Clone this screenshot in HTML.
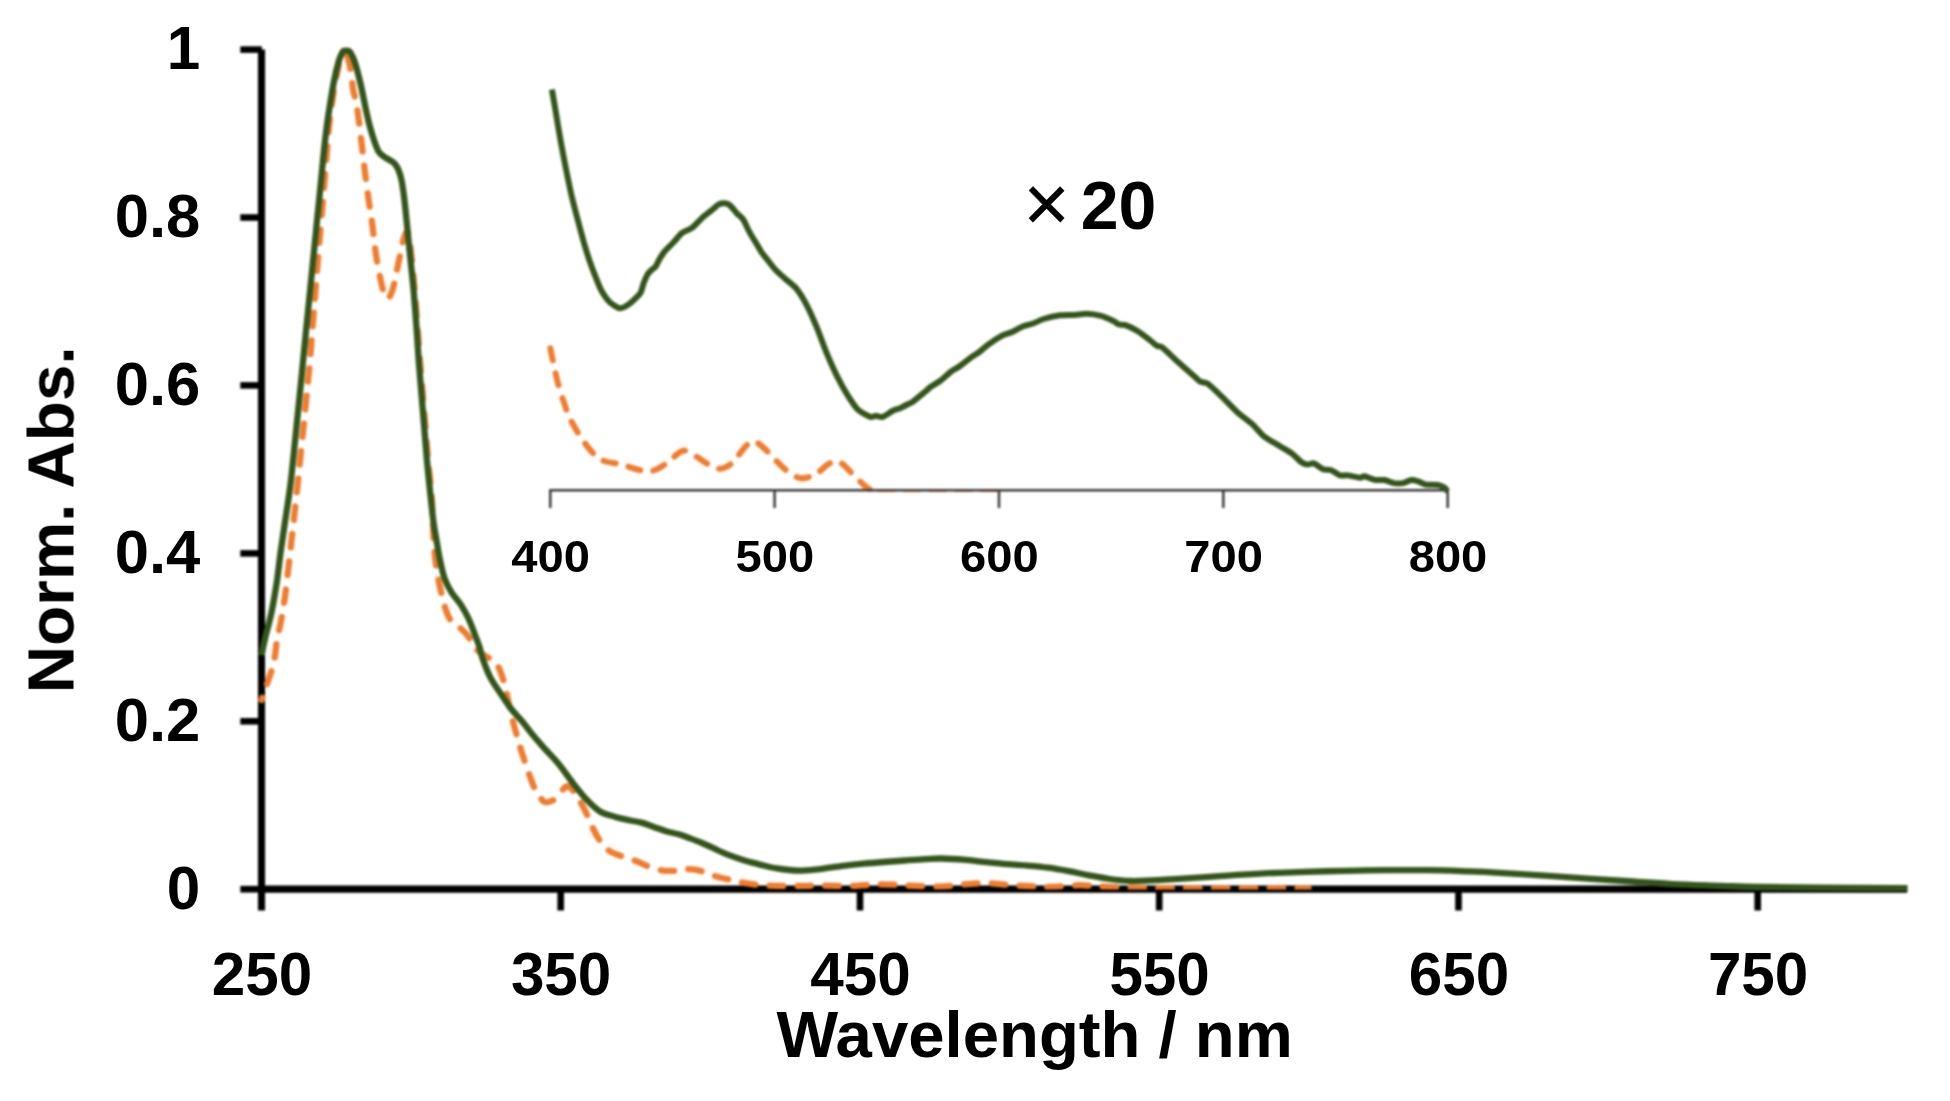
<!DOCTYPE html>
<html lang="en">
<head>
<meta charset="utf-8">
<title>Normalized absorption spectrum</title>
<style>
html,body{margin:0;padding:0;background:#fff;}
body{width:1950px;height:1101px;overflow:hidden;font-family:"Liberation Sans",Arial,sans-serif;}
svg{display:block;}
.ln{filter:blur(0.8px);}
.tx{filter:blur(0.5px);}
</style>
</head>
<body>
<svg width="1950" height="1101" viewBox="0 0 1950 1101">
<rect width="1950" height="1101" fill="#fff"/>
<g class="ln">
<g stroke="#000000" fill="none" stroke-linecap="butt">
<line x1="261.5" y1="49.4" x2="261.5" y2="910.5" stroke-width="7.1"/>
<line x1="261.5" y1="889.2" x2="1907.3" y2="889.2" stroke-width="7.3"/>
<line x1="240.3" y1="889.2" x2="261.5" y2="889.2" stroke-width="6.7"/>
<line x1="240.3" y1="721.3" x2="261.8" y2="721.3" stroke-width="6.6"/>
<line x1="240.3" y1="553.4" x2="261.8" y2="553.4" stroke-width="6.6"/>
<line x1="240.3" y1="385.4" x2="261.8" y2="385.4" stroke-width="6.6"/>
<line x1="240.3" y1="217.5" x2="261.8" y2="217.5" stroke-width="6.6"/>
<line x1="240.3" y1="49.6" x2="261.8" y2="49.6" stroke-width="6.6"/>
<line x1="560.7" y1="889.2" x2="560.7" y2="910.5" stroke-width="6.6"/>
<line x1="860.0" y1="889.2" x2="860.0" y2="910.5" stroke-width="6.6"/>
<line x1="1159.2" y1="889.2" x2="1159.2" y2="910.5" stroke-width="6.6"/>
<line x1="1458.5" y1="889.2" x2="1458.5" y2="910.5" stroke-width="6.6"/>
<line x1="1757.7" y1="889.2" x2="1757.7" y2="910.5" stroke-width="6.6"/>
</g>
<path d="M550.3,348.2C550.8,350.6 552.1,357.1 553.3,362.6C554.5,368.1 555.7,374.5 557.4,381.0C559.1,387.5 561.5,395.4 563.6,401.5C565.7,407.6 567.1,412.4 569.7,417.9C572.3,423.4 575.8,429.3 579.0,434.4C582.2,439.5 585.5,444.4 589.2,448.7C593.0,453.0 596.0,457.4 601.5,460.0C607.0,462.6 616.7,463.2 622.1,464.6C627.5,466.0 629.9,467.4 634.0,468.5C638.1,469.6 643.2,471.1 646.7,471.4C650.2,471.6 652.2,471.0 655.0,470.0C657.8,469.0 660.5,467.4 663.3,465.5C666.1,463.6 669.0,460.9 672.0,458.5C675.0,456.1 678.8,452.5 681.5,451.3C684.2,450.1 685.4,450.6 688.0,451.5C690.6,452.4 693.8,455.0 697.0,457.0C700.2,459.0 703.7,461.6 707.0,463.5C710.3,465.4 714.0,467.9 717.0,468.6C720.0,469.3 722.5,468.4 725.0,467.5C727.5,466.6 729.6,465.1 731.8,463.2C734.0,461.3 735.9,458.6 738.0,456.0C740.1,453.4 742.3,450.1 744.3,447.8C746.3,445.6 748.4,443.6 750.0,442.5C751.6,441.4 752.8,440.8 754.2,441.0C755.6,441.2 756.5,442.0 758.5,443.5C760.5,445.0 763.4,447.5 766.0,450.0C768.6,452.5 771.3,455.8 774.0,458.5C776.7,461.2 779.0,463.8 782.0,466.5C785.0,469.2 788.9,472.6 792.0,474.5C795.1,476.4 797.8,477.7 800.5,478.2C803.2,478.7 805.3,478.0 808.0,477.3C810.7,476.6 813.3,476.1 816.5,474.0C819.7,471.9 823.9,467.2 827.0,465.0C830.1,462.8 833.1,461.3 835.4,461.0C837.7,460.7 839.2,462.0 841.0,463.0C842.8,464.0 844.2,465.4 846.0,467.2C847.8,468.9 849.9,471.4 852.0,473.5C854.1,475.6 856.3,477.9 858.5,480.0C860.7,482.1 862.9,484.4 865.0,486.0C867.1,487.6 868.1,488.7 871.3,489.8C874.5,490.9 862.8,492.1 884.1,492.6C905.4,493.1 979.9,492.6 999.0,492.6" fill="none" stroke="#ee7d30" stroke-width="6.0" stroke-linejoin="round" stroke-dasharray="12.4 13.2" stroke-linecap="round" clip-path="url(#ci)"/>
<g stroke="#3a3a3a" fill="none" stroke-width="2.5">
<line x1="549.2" y1="490.2" x2="1448.8" y2="490.2"/>
<line x1="550.3" y1="490.2" x2="550.3" y2="508"/>
<line x1="774.6" y1="490.2" x2="774.6" y2="508"/>
<line x1="999.0" y1="490.2" x2="999.0" y2="508"/>
<line x1="1223.3" y1="490.2" x2="1223.3" y2="508"/>
<line x1="1447.7" y1="490.2" x2="1447.7" y2="508"/>
</g>
<path d="M551.9,89.5C552.3,92.0 554.6,104.9 555.6,111.0C556.6,117.1 559.6,135.1 560.8,141.8C562.0,148.5 564.7,162.5 565.9,168.5C567.1,174.5 569.7,187.4 571.0,193.1C572.3,198.8 575.6,211.7 577.2,217.7C578.8,223.7 582.9,239.3 584.4,244.4C585.9,249.5 588.5,257.8 589.8,261.5C591.1,265.2 594.0,273.0 595.4,276.4C596.8,279.8 599.8,287.8 601.5,290.8C603.2,293.8 607.5,300.1 609.7,302.1C611.9,304.1 617.6,308.1 620.0,308.2C622.4,308.3 627.9,304.9 630.3,303.1C632.7,301.3 639.0,295.1 640.5,292.8C642.0,290.5 642.7,285.6 643.5,283.5C644.3,281.4 646.5,276.2 647.4,274.6C648.3,273.0 650.5,270.9 651.5,270.0C652.5,269.1 654.6,267.9 655.6,266.6C656.6,265.3 658.6,260.6 659.7,258.7C660.8,256.8 663.8,252.4 665.4,250.5C667.0,248.6 671.7,244.3 673.6,242.3C675.5,240.3 679.7,234.8 681.8,233.1C683.9,231.4 689.6,229.7 692.0,227.9C694.4,226.1 699.9,219.8 702.3,217.7C704.7,215.6 710.7,211.1 712.6,209.5C714.5,207.9 717.3,205.1 718.7,204.4C720.1,203.7 723.6,203.2 724.9,203.3C726.2,203.4 728.6,204.2 730.0,205.4C731.4,206.6 735.6,211.9 737.2,213.6C738.8,215.3 741.9,217.5 743.3,219.7C744.7,221.9 748.1,229.5 749.5,232.1C750.9,234.7 754.2,239.9 755.6,242.3C757.0,244.7 760.4,250.5 761.8,252.6C763.2,254.7 766.4,258.4 768.0,260.5C769.6,262.6 773.8,268.1 775.9,270.3C778.0,272.5 783.6,277.4 786.0,279.5C788.4,281.6 794.0,285.7 796.4,288.7C798.8,291.7 804.3,300.6 806.7,305.1C809.1,309.7 814.5,321.9 816.9,327.7C819.3,333.5 824.8,348.7 827.2,354.4C829.6,360.1 835.0,372.1 837.4,376.9C839.8,381.7 845.3,391.6 847.7,395.4C850.1,399.2 855.3,407.2 857.9,409.7C860.5,412.2 868.2,416.2 870.3,416.9C872.4,417.6 874.6,415.8 876.0,415.8C877.4,415.8 880.6,417.5 882.6,416.9C884.6,416.3 890.8,411.8 892.8,410.8C894.8,409.8 898.1,409.0 900.0,408.2C901.9,407.4 907.8,404.3 909.2,403.6C910.6,402.9 910.4,403.5 912.3,402.1C914.2,400.7 923.4,393.1 925.6,391.3C927.8,389.5 929.1,387.9 930.8,386.7C932.5,385.5 937.6,382.8 940.0,381.0C942.4,379.2 949.0,373.1 951.3,371.3C953.6,369.6 957.6,367.7 960.0,366.0C962.4,364.3 969.5,358.6 971.8,356.9C974.1,355.2 978.1,352.9 980.0,351.5C981.9,350.1 985.6,346.5 988.2,344.6C990.8,342.7 999.8,336.9 1002.6,335.4C1005.4,333.9 1009.6,333.1 1012.0,332.0C1014.4,330.9 1020.6,327.2 1023.1,326.2C1025.5,325.2 1030.6,324.3 1033.0,323.5C1035.4,322.7 1040.4,320.0 1043.6,319.0C1046.8,318.0 1056.4,315.8 1060.0,315.3C1063.6,314.8 1071.3,315.1 1074.4,314.9C1077.5,314.7 1083.6,313.7 1086.7,313.8C1089.8,313.9 1097.9,315.1 1101.0,315.9C1104.1,316.7 1111.2,320.0 1113.3,321.0C1115.4,322.0 1117.6,324.0 1119.0,324.5C1120.4,325.0 1123.4,324.3 1125.6,325.1C1127.8,325.9 1135.0,329.5 1137.9,331.3C1140.8,333.1 1148.1,338.8 1150.3,340.5C1152.5,342.2 1155.6,345.0 1157.0,345.8C1158.4,346.6 1160.3,345.9 1162.6,347.7C1164.9,349.5 1173.3,357.8 1176.9,361.0C1180.5,364.2 1190.6,373.0 1193.3,375.4C1196.0,377.8 1198.3,380.5 1200.0,381.5C1201.7,382.5 1205.1,381.8 1207.7,383.6C1210.3,385.4 1218.5,393.4 1222.1,396.9C1225.7,400.4 1234.9,410.1 1238.5,413.3C1242.1,416.5 1249.8,421.8 1252.8,424.6C1255.8,427.4 1261.4,434.4 1264.6,436.9C1267.8,439.4 1276.8,444.2 1280.0,446.2C1283.2,448.2 1289.8,451.9 1292.3,453.8C1294.8,455.7 1299.7,461.0 1301.5,462.3C1303.3,463.6 1306.3,464.5 1307.7,464.6C1309.1,464.7 1312.0,462.9 1313.8,463.4C1315.6,463.9 1321.1,468.4 1323.1,469.2C1325.1,470.0 1328.8,469.3 1330.8,470.0C1332.8,470.7 1338.0,474.8 1340.0,475.4C1342.0,476.0 1345.4,475.1 1347.7,475.4C1350.0,475.7 1358.0,477.6 1360.0,477.7C1362.0,477.8 1362.8,475.9 1364.6,476.2C1366.4,476.5 1373.1,479.6 1375.4,480.0C1377.7,480.4 1382.5,479.6 1384.6,480.0C1386.7,480.4 1391.6,482.7 1393.8,483.1C1396.0,483.5 1401.0,483.5 1403.1,483.1C1405.2,482.7 1409.7,480.2 1411.5,480.0C1413.3,479.8 1416.8,481.0 1418.5,481.5C1420.2,482.0 1423.9,484.2 1426.2,484.6C1428.5,485.0 1436.4,484.7 1438.5,485.1C1440.6,485.5 1443.5,487.0 1444.6,487.7C1445.7,488.4 1447.3,491.1 1447.7,491.5" fill="none" stroke="#33551b" stroke-width="6.0" stroke-linejoin="round"/>
<path d="M261.5,700.0C262.2,698.0 264.3,691.8 265.6,688.0C266.9,684.2 268.2,680.7 269.4,677.0C270.6,673.3 272.1,669.7 273.0,666.0C273.9,662.3 274.4,659.3 275.1,655.0C275.8,650.7 276.0,645.8 277.0,640.0C278.1,634.2 279.9,627.2 281.2,620.0C282.5,612.8 283.7,605.5 284.9,597.0C286.1,588.5 287.2,578.0 288.3,569.0C289.3,560.0 290.3,551.2 291.2,543.0C292.2,534.8 292.7,530.0 293.8,520.0C294.9,510.0 296.6,494.7 297.8,483.0C299.0,471.3 300.1,460.3 301.1,450.0C302.2,439.7 303.1,431.0 304.1,421.0C305.0,411.0 306.2,399.3 307.1,390.0C308.0,380.7 308.7,375.0 309.6,365.0C310.5,355.0 311.4,342.2 312.3,330.0C313.3,317.8 314.2,306.0 315.3,292.0C316.4,278.0 318.1,257.7 319.0,246.0C320.0,234.3 320.4,229.3 321.1,222.0C321.7,214.7 322.1,210.5 322.8,202.0C323.6,193.5 324.5,181.3 325.4,171.0C326.2,160.7 327.1,148.7 327.8,140.0C328.5,131.3 329.0,125.7 329.8,119.0C330.6,112.3 331.6,106.0 332.5,100.0C333.3,94.0 334.1,88.0 335.0,83.0C335.9,78.0 337.0,73.6 337.8,70.0C338.6,66.4 338.5,63.9 339.6,61.5C340.7,59.1 343.4,56.8 344.6,55.6C345.8,54.5 346.0,53.9 346.6,54.6C347.2,55.3 347.8,57.0 348.5,60.0C349.2,63.0 350.2,67.2 351.0,72.3C351.8,77.3 352.4,85.5 353.2,90.3C354.0,95.1 355.1,96.4 356.0,101.0C356.9,105.6 357.6,111.4 358.5,118.0C359.4,124.6 360.2,131.9 361.3,140.8C362.4,149.7 363.6,161.3 364.9,171.6C366.2,181.9 367.8,193.8 369.0,202.4C370.2,211.0 371.0,214.8 372.1,222.9C373.2,231.0 374.1,241.8 375.4,250.8C376.7,259.8 378.6,270.0 380.0,276.9C381.4,283.8 382.5,288.7 383.8,292.3C385.1,295.9 386.3,298.8 387.7,298.5C389.1,298.2 390.9,294.9 392.3,290.8C393.7,286.7 394.9,279.7 396.2,273.8C397.5,267.9 398.7,261.3 400.0,255.4C401.3,249.5 402.5,242.4 403.8,238.5C405.1,234.6 406.5,230.6 407.6,232.0C408.7,233.4 409.2,236.7 410.4,247.0C411.6,257.3 413.6,279.1 414.9,293.7C416.2,308.3 417.1,323.2 418.0,334.8C418.9,346.4 419.1,349.8 420.1,363.0C421.2,376.2 423.0,397.6 424.3,413.8C425.6,430.0 426.8,445.9 428.0,460.0C429.2,474.1 430.8,484.6 431.8,498.5C432.8,512.4 433.0,531.1 433.8,543.1C434.6,555.1 435.6,562.3 436.9,570.8C438.2,579.2 439.9,587.1 441.5,593.8C443.1,600.5 444.5,606.2 446.2,610.8C447.9,615.4 449.1,618.5 451.5,621.5C453.9,624.5 458.0,625.9 460.8,628.5C463.6,631.1 465.9,633.4 468.5,636.9C471.1,640.4 473.1,645.9 476.2,649.2C479.3,652.5 483.8,654.9 486.9,656.9C490.0,658.9 492.4,659.1 494.6,661.5C496.9,663.9 498.6,667.1 500.4,671.5C502.2,675.9 503.8,681.4 505.4,687.7C507.0,694.0 508.5,702.5 510.0,709.2C511.5,715.9 513.2,722.6 514.6,727.7C516.0,732.8 517.1,736.0 518.3,740.0C519.4,744.0 519.9,746.5 521.5,751.5C523.1,756.5 525.5,763.8 527.7,770.0C529.9,776.2 532.3,783.6 534.6,788.5C536.9,793.4 539.6,796.9 541.5,799.2C543.4,801.5 544.0,802.3 546.2,802.3C548.4,802.3 551.5,801.6 554.6,799.2C557.7,796.8 562.3,789.8 564.6,787.7C566.9,785.6 567.0,785.9 568.5,786.5C570.0,787.1 571.6,788.6 573.8,791.5C576.0,794.4 579.2,799.7 581.5,803.8C583.8,807.9 585.7,811.8 587.7,816.2C589.8,820.6 591.8,825.9 593.8,830.0C595.8,834.1 597.4,837.3 600.0,840.8C602.6,844.3 605.6,848.2 609.2,850.8C612.8,853.4 617.1,854.5 621.5,856.2C625.9,857.9 631.0,859.1 635.4,860.8C639.8,862.5 643.4,864.6 647.7,866.2C652.1,867.8 657.1,869.5 661.5,870.3C665.9,871.1 669.2,871.0 673.8,870.8C678.4,870.6 684.3,869.1 689.2,869.2C694.1,869.3 698.7,870.3 703.1,871.5C707.5,872.7 710.8,874.8 715.4,876.2C720.0,877.6 725.7,878.9 730.8,880.0C735.9,881.1 740.6,882.2 746.2,883.1C751.8,884.0 756.4,884.9 764.6,885.4C772.8,885.9 786.2,886.0 795.4,886.0C804.6,886.0 810.9,885.6 820.0,885.6C829.1,885.6 840.0,886.2 850.0,886.0C860.0,885.8 870.0,884.4 880.0,884.3C890.0,884.2 900.0,885.2 910.0,885.6C920.0,886.0 930.7,886.8 940.0,886.6C949.3,886.4 958.2,884.8 966.0,884.2C973.8,883.6 979.9,883.1 986.7,883.2C993.5,883.3 999.8,884.3 1007.0,884.8C1014.2,885.3 1022.8,885.8 1030.0,886.2C1037.2,886.6 1041.8,887.2 1050.0,887.0C1058.2,886.8 1070.7,885.3 1079.0,885.2C1087.3,885.1 1091.5,886.0 1100.0,886.4C1108.5,886.8 1120.0,887.3 1130.0,887.6C1140.0,887.9 1143.3,888.1 1160.0,888.2C1176.7,888.3 1205.2,888.3 1230.0,888.3C1254.8,888.3 1295.4,888.3 1308.5,888.3" fill="none" stroke="#ee7d30" stroke-width="6.3" stroke-linejoin="round" stroke-dasharray="13.5 14.3" stroke-dashoffset="11" stroke-linecap="round" clip-path="url(#cm)"/>
<path d="M261.5,655.4C262.1,652.3 263.7,644.1 265.4,636.9C267.1,629.7 269.6,621.5 271.5,612.3C273.4,603.1 275.3,591.8 276.9,581.5C278.4,571.2 279.4,560.7 280.8,550.8C282.2,540.9 283.4,533.3 285.0,522.0C286.6,510.7 288.6,499.9 290.6,483.1C292.6,466.4 295.0,441.2 297.0,421.5C299.0,401.8 300.6,386.5 302.7,365.0C304.8,343.5 307.9,312.1 309.9,292.3C311.9,272.5 313.4,257.8 314.5,246.2C315.6,234.6 316.1,230.2 316.8,222.9C317.5,215.6 318.0,211.0 318.9,202.4C319.8,193.8 320.9,181.9 321.9,171.6C322.9,161.3 324.0,149.6 325.0,140.8C326.0,132.0 326.4,128.6 327.8,119.0C329.2,109.4 331.8,92.7 333.6,83.1C335.4,73.5 337.1,66.7 338.6,61.5C340.1,56.3 341.7,53.8 342.6,52.0C343.5,50.2 343.3,51.1 344.2,50.9C345.1,50.7 347.2,50.7 348.2,50.9C349.2,51.1 349.1,50.4 350.2,52.2C351.3,54.0 352.9,56.4 354.6,61.5C356.3,66.7 358.6,75.5 360.4,83.1C362.2,90.7 363.9,100.0 365.4,107.0C366.9,114.0 368.1,119.8 369.6,125.4C371.1,131.0 372.7,136.4 374.2,140.8C375.7,145.2 377.0,149.0 378.6,151.6C380.2,154.2 382.0,155.1 383.9,156.6C385.8,158.1 388.3,159.1 390.1,160.3C391.9,161.5 393.2,162.0 394.6,163.6C396.0,165.2 397.2,166.9 398.4,169.8C399.6,172.7 400.7,175.8 401.7,181.0C402.7,186.2 403.6,192.8 404.6,201.3C405.6,209.8 406.7,221.8 407.7,232.1C408.7,242.4 409.8,252.6 410.8,262.9C411.8,273.2 412.9,281.7 413.9,293.7C414.9,305.7 416.2,323.2 417.0,334.8C417.8,346.4 417.9,349.8 418.9,363.0C419.9,376.2 421.8,397.6 423.1,413.8C424.4,430.0 425.6,445.9 426.9,460.0C428.2,474.1 429.7,488.0 430.8,498.5C431.9,509.0 432.7,516.3 433.6,523.0C434.5,529.7 435.1,532.3 436.2,538.5C437.3,544.7 438.6,553.3 440.0,560.0C441.4,566.7 442.7,573.1 444.6,578.5C446.5,583.9 448.8,587.9 451.5,592.3C454.2,596.6 458.0,600.2 460.8,604.6C463.6,609.0 466.2,613.6 468.5,618.5C470.8,623.4 472.8,629.0 474.6,633.8C476.4,638.5 478.2,642.9 479.5,647.0C480.8,651.1 480.9,653.5 482.6,658.5C484.4,663.5 487.0,671.0 490.0,676.9C493.0,682.8 497.2,688.4 500.8,693.8C504.4,699.2 507.9,704.6 511.5,709.2C515.1,713.8 519.0,717.5 522.3,721.5C525.6,725.5 527.7,728.8 531.2,733.0C534.7,737.2 538.6,741.8 543.1,746.9C547.6,752.0 553.6,757.9 558.5,763.8C563.4,769.7 567.7,776.4 572.3,782.3C576.9,788.2 581.6,794.3 586.2,799.2C590.8,804.1 595.1,808.5 600.0,811.5C604.9,814.5 610.5,815.4 615.4,816.9C620.3,818.4 624.9,819.2 629.2,820.2C633.6,821.2 637.4,821.5 641.5,822.6C645.6,823.7 649.7,825.5 653.8,826.9C657.9,828.3 662.1,830.0 666.2,831.2C670.3,832.4 674.4,833.1 678.5,834.3C682.6,835.5 686.7,837.1 690.8,838.6C694.9,840.1 699.0,841.8 703.1,843.5C707.2,845.2 711.3,847.2 715.4,849.1C719.5,851.0 723.6,853.0 727.7,854.6C731.8,856.2 735.9,857.6 740.0,858.9C744.1,860.2 748.2,861.5 752.3,862.6C756.4,863.7 760.5,864.7 764.6,865.7C768.7,866.7 772.8,867.7 776.9,868.4C781.0,869.1 785.1,869.6 789.2,870.0C793.3,870.4 796.4,870.7 801.5,870.6C806.6,870.5 813.1,870.0 820.0,869.2C826.9,868.4 835.7,866.7 843.0,865.8C850.3,864.9 856.8,864.2 863.6,863.6C870.4,863.0 877.2,862.5 884.0,862.0C890.8,861.5 897.8,861.0 904.6,860.5C911.4,860.0 918.9,859.4 925.0,859.1C931.1,858.8 934.7,858.4 941.5,858.5C948.3,858.6 958.5,859.3 966.0,859.9C973.5,860.5 979.9,861.5 986.7,862.2C993.5,862.9 1000.2,863.6 1007.0,864.2C1013.8,864.8 1020.9,865.0 1027.7,865.6C1034.5,866.2 1041.2,866.8 1048.0,867.7C1054.8,868.6 1061.9,869.9 1068.7,871.2C1075.5,872.5 1082.2,874.0 1089.0,875.3C1095.8,876.6 1102.7,878.0 1109.7,879.0C1116.7,880.0 1123.9,880.8 1130.8,881.0C1137.7,881.2 1142.5,880.8 1151.0,880.4C1159.5,880.0 1170.0,879.4 1182.0,878.6C1194.0,877.9 1209.3,876.8 1223.0,875.9C1236.7,875.0 1250.3,874.1 1264.0,873.4C1277.7,872.7 1291.3,872.2 1305.0,871.8C1318.7,871.4 1332.3,871.1 1346.0,870.8C1359.7,870.5 1373.3,870.3 1387.0,870.2C1400.7,870.1 1414.3,870.0 1428.0,870.2C1441.7,870.4 1457.0,871.0 1469.0,871.4C1481.0,871.8 1486.1,872.0 1500.0,872.8C1513.9,873.6 1531.5,874.8 1552.3,876.2C1573.1,877.6 1604.5,879.7 1624.6,881.0C1644.7,882.3 1656.7,883.3 1672.8,884.1C1688.9,884.9 1707.0,885.3 1721.0,885.8C1735.0,886.3 1740.9,886.7 1757.0,887.0C1773.1,887.3 1792.4,887.4 1817.4,887.6C1842.5,887.8 1892.3,888.1 1907.3,888.2" fill="none" stroke="#33551b" stroke-width="6.3" stroke-linejoin="round"/>
<defs><clipPath id="cm"><rect x="0" y="0" width="1950" height="889.6"/></clipPath><clipPath id="ci"><rect x="540" y="300" width="920" height="191.9"/></clipPath></defs>
</g>
<g class="tx">
<text x="200.3" y="908.5" font-family="Liberation Sans, Arial, sans-serif" font-weight="bold" font-size="60.2" text-anchor="end">0</text>
<text x="200.3" y="740.6" font-family="Liberation Sans, Arial, sans-serif" font-weight="bold" font-size="60.2" text-anchor="end" textLength="85.6" lengthAdjust="spacingAndGlyphs">0.2</text>
<text x="200.3" y="572.7" font-family="Liberation Sans, Arial, sans-serif" font-weight="bold" font-size="60.2" text-anchor="end" textLength="85.6" lengthAdjust="spacingAndGlyphs">0.4</text>
<text x="200.3" y="404.7" font-family="Liberation Sans, Arial, sans-serif" font-weight="bold" font-size="60.2" text-anchor="end" textLength="85.6" lengthAdjust="spacingAndGlyphs">0.6</text>
<text x="200.3" y="236.8" font-family="Liberation Sans, Arial, sans-serif" font-weight="bold" font-size="60.2" text-anchor="end" textLength="85.6" lengthAdjust="spacingAndGlyphs">0.8</text>
<text x="200.3" y="68.9" font-family="Liberation Sans, Arial, sans-serif" font-weight="bold" font-size="60.2" text-anchor="end">1</text>
<text x="261.9" y="994.6" font-family="Liberation Sans, Arial, sans-serif" font-weight="bold" font-size="60.2" text-anchor="middle">250</text>
<text x="561.1" y="994.6" font-family="Liberation Sans, Arial, sans-serif" font-weight="bold" font-size="60.2" text-anchor="middle">350</text>
<text x="860.4" y="994.6" font-family="Liberation Sans, Arial, sans-serif" font-weight="bold" font-size="60.2" text-anchor="middle">450</text>
<text x="1159.6" y="994.6" font-family="Liberation Sans, Arial, sans-serif" font-weight="bold" font-size="60.2" text-anchor="middle">550</text>
<text x="1458.9" y="994.6" font-family="Liberation Sans, Arial, sans-serif" font-weight="bold" font-size="60.2" text-anchor="middle">650</text>
<text x="1758.1" y="994.6" font-family="Liberation Sans, Arial, sans-serif" font-weight="bold" font-size="60.2" text-anchor="middle">750</text>
<text x="550.6" y="572.0" font-family="Liberation Sans, Arial, sans-serif" font-weight="bold" font-size="45" text-anchor="middle" textLength="78.6" lengthAdjust="spacingAndGlyphs">400</text>
<text x="774.9" y="572.0" font-family="Liberation Sans, Arial, sans-serif" font-weight="bold" font-size="45" text-anchor="middle" textLength="78.6" lengthAdjust="spacingAndGlyphs">500</text>
<text x="999.3" y="572.0" font-family="Liberation Sans, Arial, sans-serif" font-weight="bold" font-size="45" text-anchor="middle" textLength="78.6" lengthAdjust="spacingAndGlyphs">600</text>
<text x="1223.6" y="572.0" font-family="Liberation Sans, Arial, sans-serif" font-weight="bold" font-size="45" text-anchor="middle" textLength="78.6" lengthAdjust="spacingAndGlyphs">700</text>
<text x="1448.0" y="572.0" font-family="Liberation Sans, Arial, sans-serif" font-weight="bold" font-size="45" text-anchor="middle" textLength="78.6" lengthAdjust="spacingAndGlyphs">800</text>
<text x="1034.6" y="1057.3" font-family="Liberation Sans, Arial, sans-serif" font-weight="bold" font-size="65.3" text-anchor="middle">Wavelength / nm</text>
<text transform="translate(73.5,519.8) rotate(-90)" font-family="Liberation Sans, Arial, sans-serif" font-weight="bold" font-size="65.7" word-spacing="-1" text-anchor="middle">Norm. Abs.</text>
<text x="1118.5" y="228.6" font-family="Liberation Sans, Arial, sans-serif" font-weight="bold" font-size="68" text-anchor="middle">20</text>
<text x="1046.5" y="231.2" font-family="Liberation Sans, Arial, sans-serif" font-size="79" text-anchor="middle" stroke="#000" stroke-width="0.5">×</text>
</g>
</svg>
</body>
</html>
